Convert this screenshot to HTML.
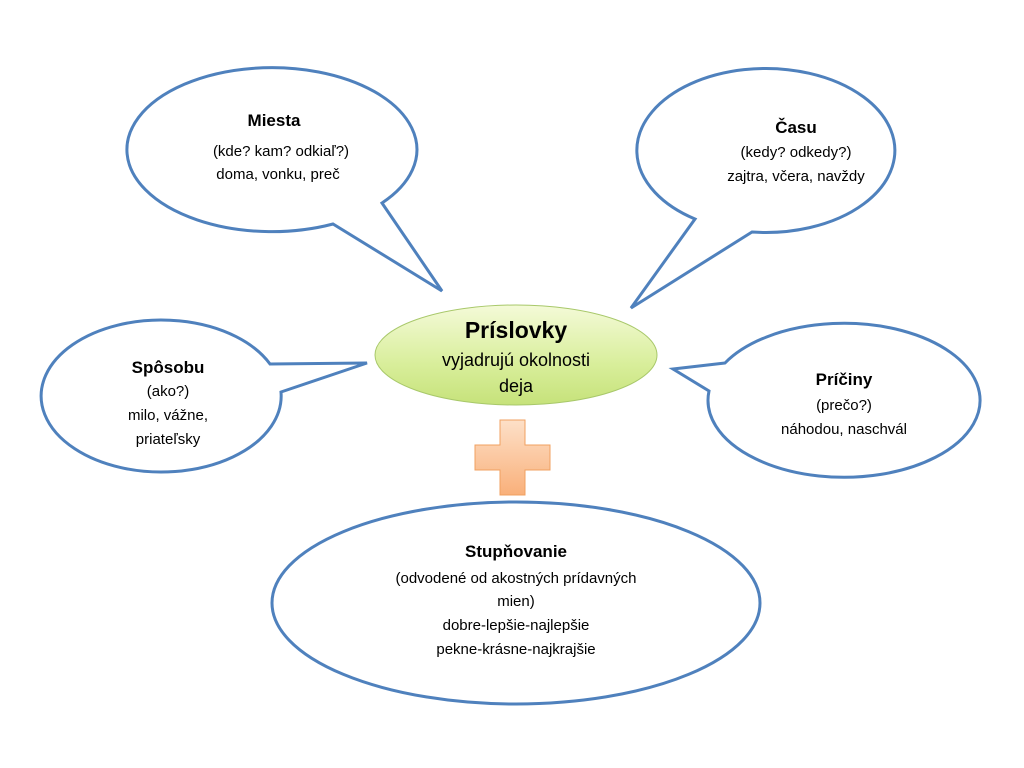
<!DOCTYPE html>
<html><head><meta charset="utf-8"><style>
html,body{margin:0;padding:0;background:#fff;}
svg{display:block;}
text{font-family:"Liberation Sans",sans-serif;fill:#000;}
.b{font-weight:bold;}
</style></head><body>
<svg width="1024" height="768" viewBox="0 0 1024 768" xmlns="http://www.w3.org/2000/svg">
<defs>
<linearGradient id="g" x1="0" y1="0" x2="0" y2="1">
<stop offset="0" stop-color="#f4fad8"/><stop offset="0.6" stop-color="#d8ee9a"/><stop offset="1" stop-color="#c6e27a"/>
</linearGradient>
<linearGradient id="o" x1="0" y1="0" x2="0" y2="1">
<stop offset="0" stop-color="#fde0c8"/><stop offset="1" stop-color="#f9b07a"/>
</linearGradient>
</defs>
<g stroke="#4f81bd" stroke-width="3" fill="#fff" stroke-linejoin="miter">
<path d="M382,203 L442,291 L333,224 A145,82 0 1 1 382,203 Z"/>
<path d="M752,232 L631,308 L695,219 A129,82 0 1 1 752,232 Z"/>
<path d="M270,364 L367,363 L281,392 A120,76 0 1 1 270,364 Z"/>
<path d="M725,363 L673,369 L709,391 A136,77 0 1 0 725,363 Z"/>
<ellipse cx="516" cy="603" rx="244" ry="101"/>
</g>
<ellipse cx="516" cy="355" rx="141" ry="50" fill="url(#g)" stroke="#a8c86a" stroke-width="1"/>
<path d="M500,420 H525 V445 H550 V470 H525 V495 H500 V470 H475 V445 H500 Z" fill="url(#o)" stroke="#f0a060" stroke-width="1"/>
<g text-anchor="middle" font-size="15">
<text x="274" y="126" class="b" font-size="17">Miesta</text>
<text x="281" y="156">(kde? kam? odkiaľ?)</text>
<text x="278" y="179">doma, vonku, preč</text>
<text x="796" y="133" class="b" font-size="17">Času</text>
<text x="796" y="157">(kedy? odkedy?)</text>
<text x="796" y="181">zajtra, včera, navždy</text>
<text x="168" y="373" class="b" font-size="17">Spôsobu</text>
<text x="168" y="396">(ako?)</text>
<text x="168" y="420">milo, vážne,</text>
<text x="168" y="444">priateľsky</text>
<text x="844" y="385" class="b" font-size="17">Príčiny</text>
<text x="844" y="410">(prečo?)</text>
<text x="844" y="434">náhodou, naschvál</text>
<text x="516" y="557" class="b" font-size="17">Stupňovanie</text>
<text x="516" y="583">(odvodené od akostných prídavných</text>
<text x="516" y="606">mien)</text>
<text x="516" y="630">dobre-lepšie-najlepšie</text>
<text x="516" y="654">pekne-krásne-najkrajšie</text>
<text x="516" y="338" class="b" font-size="23">Príslovky</text>
<text x="516" y="366" font-size="18">vyjadrujú okolnosti</text>
<text x="516" y="392" font-size="18">deja</text>
</g>
</svg>
</body></html>
